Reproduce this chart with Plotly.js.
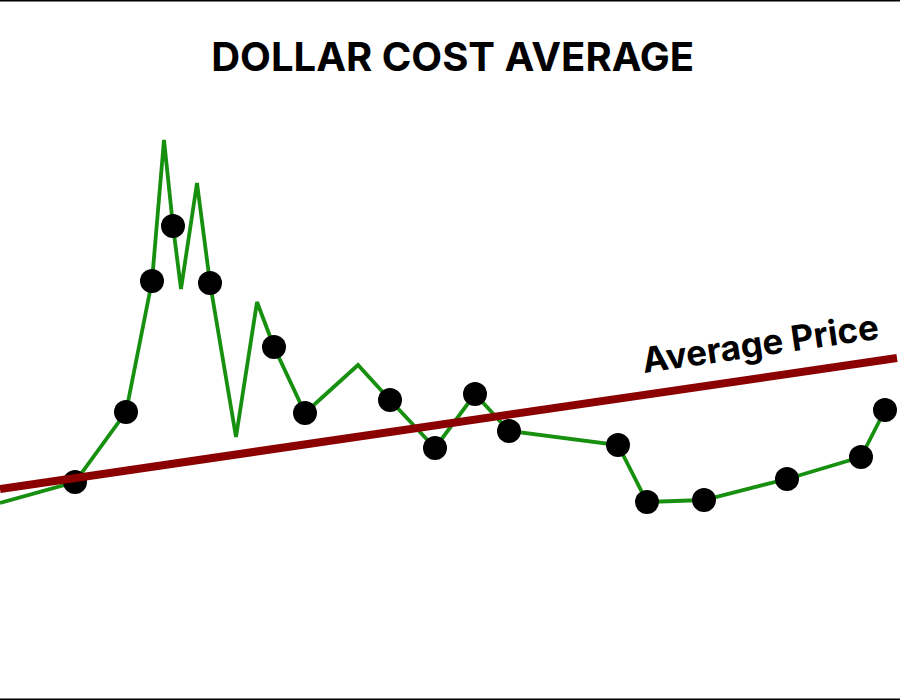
<!DOCTYPE html>
<html>
<head>
<meta charset="utf-8">
<script src="https://cdn.plot.ly/plotly-3.0.1.min.js"></script>
<style>html,body{margin:0;padding:0;background:#fff;}#chart{width:900px;height:700px;}</style>
</head>
<body>
<div id="chart"></div>
<script>
// Time positions (arbitrary units) and price values
const timePos = [0, 75, 126, 152, 164, 173, 181, 197, 210, 236, 257, 274, 305, 358, 390, 435, 475, 509, 618, 647, 704, 787, 861, 885];
const prices  = [197, 218, 288, 419, 560, 474, 411, 517, 417, 263, 398, 353, 287, 335, 300, 252, 306, 269, 255, 198, 200, 221, 243, 290];
const isBuy   = [0, 1, 1, 1, 0, 1, 0, 0, 1, 0, 0, 1, 1, 0, 1, 1, 1, 1, 1, 1, 1, 1, 1, 1];
const avgX = [0, 897];
const avgY = [211, 342];
const titleText = "DOLLAR COST AVERAGE";
const avgLabel = "Average Price";

const buyX = timePos.filter((_, i) => isBuy[i]);
const buyY = prices.filter((_, i) => isBuy[i]);

const traces = [
  {x: timePos, y: prices, mode: 'lines', line: {color: '#179010', width: 3.8}, hoverinfo: 'skip'},
  {x: buyX, y: buyY, mode: 'markers', marker: {color: '#000', size: 24}, hoverinfo: 'skip'},
  {x: avgX, y: avgY, mode: 'lines', line: {color: '#8b0000', width: 8}, hoverinfo: 'skip'}
];

const layout = {
  width: 900, height: 700,
  margin: {l: 0, r: 0, t: 0, b: 0},
  paper_bgcolor: '#fff', plot_bgcolor: '#fff',
  showlegend: false,
  title: {text: '<b>' + titleText + '</b>', x: 0.503, xanchor: 'center', y: 1 - 57/700, yanchor: 'middle',
          font: {family: 'Inter, Roboto, sans-serif', size: 40, color: '#000'}},
  xaxis: {range: [0, 900], visible: false, fixedrange: true},
  yaxis: {range: [0, 700], visible: false, fixedrange: true},
  annotations: [{x: 760, y: 357, xref: 'x', yref: 'y', text: '<b>' + avgLabel + '</b>', showarrow: false,
    textangle: -8.3, font: {family: 'Inter, Roboto, sans-serif', size: 35, color: '#000'}}],
  shapes: [
    {type: 'line', xref: 'paper', yref: 'paper', x0: 0, x1: 1, y0: 1, y1: 1, line: {color: '#000', width: 3}},
    {type: 'line', xref: 'paper', yref: 'paper', x0: 0, x1: 1, y0: 0, y1: 0, line: {color: '#000', width: 3}}
  ]
};
Plotly.newPlot('chart', traces, layout, {displayModeBar: false, staticPlot: true});
</script>
</body>
</html>
